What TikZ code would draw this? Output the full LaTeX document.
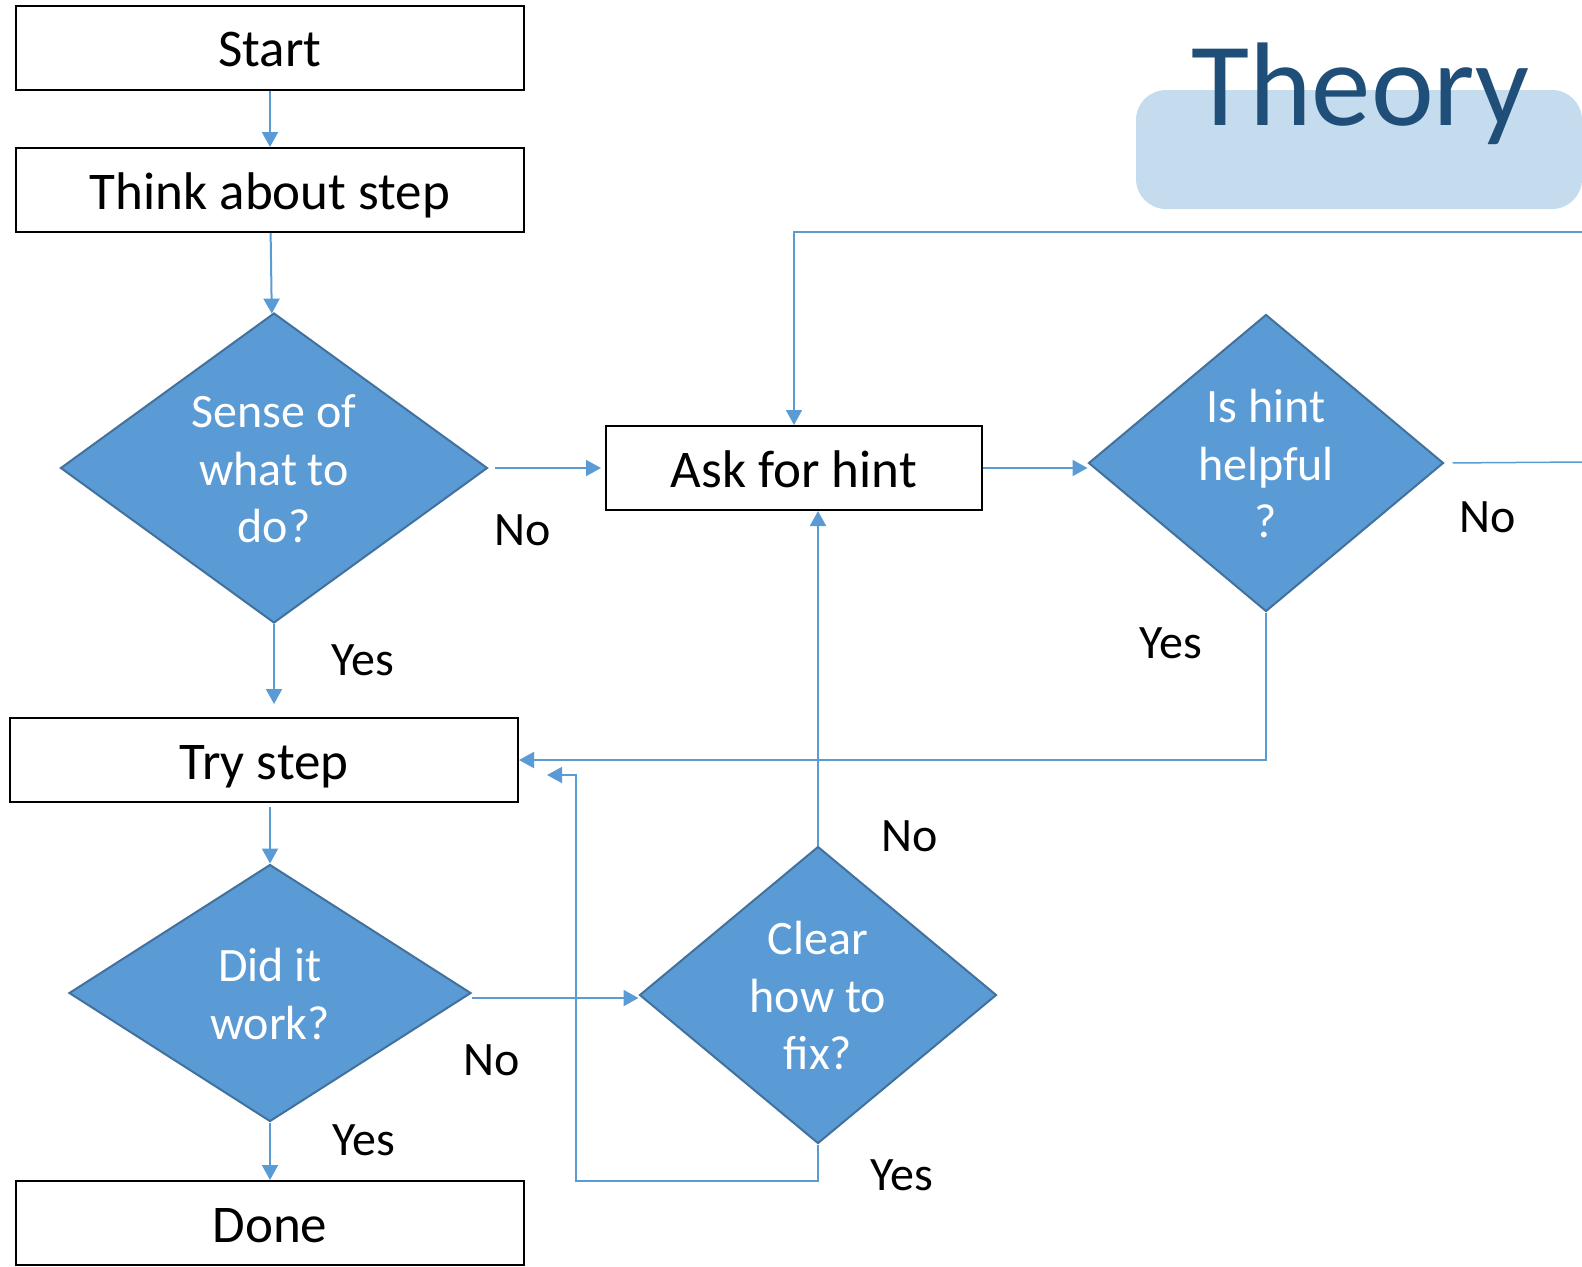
\documentclass[tikz,border=0pt]{standalone}
\usepackage{fontspec}
\setmainfont{Carlito}
\usetikzlibrary{arrows.meta,shapes.geometric}
\definecolor{flowblue}{HTML}{5B9BD5}
\definecolor{flowedge}{HTML}{41719C}
\definecolor{titleblue}{HTML}{1F4E79}
\definecolor{titlepad}{HTML}{C5DCEF}
% struts that give multi-line decision text the same line box as one line
\newcommand{\hi}{\rule{0pt}{0.96em}}
\newcommand{\lo}{\rule[-0.24em]{0pt}{0pt}}

\begin{document}
\begin{tikzpicture}[x=0.5pt,y=-0.5pt,
  stepbox/.style={draw=black, line width=1pt, fill=white,
    minimum width=254pt, minimum height=42pt, inner sep=0,
    text height=25.4pt, text depth=6.4pt,
    font=\fontsize{26.5}{32}\selectfont},
  decision/.style={diamond, draw=flowedge, line width=1pt, fill=flowblue, inner sep=0},
  dtext/.style={text=white, align=center, inner sep=0,
    font=\fontsize{24}{28.75}\selectfont},
  answer/.style={inner sep=0, font=\fontsize{24}{28}\selectfont},
  flow/.style={draw=flowblue, line width=1pt, -{Triangle[length=7.5pt,width=8pt]}},
  thinflow/.style={flow, line width=0.75pt},
  plainflow/.style={draw=flowblue, line width=0.75pt}]
\useasboundingbox (0,0) rectangle (1582,1266);

% title
\fill[titlepad, rounded corners=15pt] (1136,90) rectangle (1582,209);
\node[anchor=base west, inner sep=0, text=titleblue,
  font=\fontsize{59.5}{72}\selectfont] (title) at (1191,125) {Theory};

% process boxes
\node[stepbox] (start) at (270,47.5) {Start};
\node[stepbox] (think) at (270,190) {Think about step};
\node[stepbox, minimum width=188pt] (ask) at (794,468) {Ask for hint};
\node[stepbox] (try) at (264,760) {Try step};
\node[stepbox] (done) at (270,1223) {Done};

% decisions
\node[decision, minimum width=213.5pt, minimum height=155pt] (sense) at (274,468) {};
\node[dtext] (senset) at (sense) {\hi Sense of\\what to\\do?\lo};
\node[decision, minimum width=177.5pt, minimum height=148.5pt] (hint) at (1266,463) {};
\node[dtext] (hintt) at (hint) {\hi Is hint\\helpful\\?\lo};
\node[decision, minimum width=201pt, minimum height=128.5pt] (did) at (270,993) {};
\node[dtext] (didt) at (did) {\hi Did it\\work?\lo};
\node[decision, minimum width=178.5pt, minimum height=148.5pt] (clear) at (818,995) {};
\node[dtext] (cleart) at (clear) {\hi Clear\\how to\\fix?\lo};

% free ends of the connectors
\coordinate (offright) at (1582,462);
\coordinate (offtop) at (1582,232);
\coordinate (loopfoot) at (576,1181);
\coordinate (retry) at (547,775);

% connectors
\draw[flow] (start) -- (think);
\draw[flow] (think) -- (sense);
\draw[flow, shorten <=3pt, shorten >=2pt] (sense.east) -- (ask.west);
\draw[flow] (ask.east) -- (ask.east -| hint.west);
\draw[plainflow, shorten <=4pt] (hint.east) -- (offright);
\draw[thinflow] (offtop) -| (ask.north);
\draw[flow, shorten >=6.5pt] (sense.south) -- (sense.south |- try.north);
\draw[flow] (hint.south) -- (hint.south |- try.east) -- (try.east);
\draw[flow] (clear.north) -- (clear.north |- ask.south);
\draw[flow, shorten <=2pt] (try.south -| did.north) -- (did.north);
\draw[flow] ([yshift=-2.5pt]did.east) -- ([yshift=-2.5pt]did.east -| clear.west);
\draw[flow] (did) -- (done);
\draw[thinflow] (clear.south) |- (loopfoot) |- (retry);

% branch labels
\node[answer] (sno) at (523,530) {No};
\node[answer] (syes) at (363,660) {Yes};
\node[answer] (hno) at (1488,517) {No};
\node[answer] (hyes) at (1171,643) {Yes};
\node[answer] (cno) at (910,836) {No};
\node[answer] (cyes) at (902,1175) {Yes};
\node[answer] (dno) at (492,1060) {No};
\node[answer] (dyes) at (364,1140) {Yes};
\end{tikzpicture}
\end{document}
